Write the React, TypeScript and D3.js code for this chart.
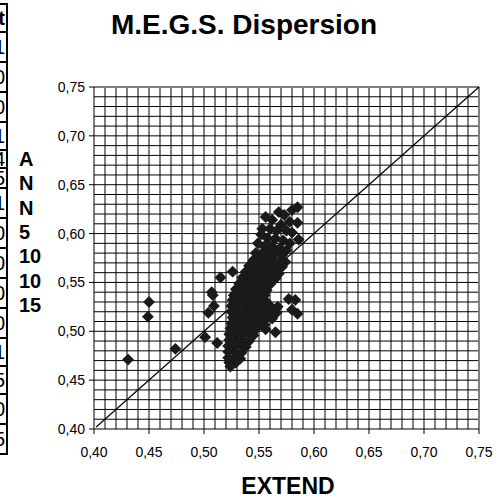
import React from 'react';
import * as d3 from 'd3';

// values
const xTicks = [0.4, 0.45, 0.5, 0.55, 0.6, 0.65, 0.7, 0.75];
const yTicks = [0.4, 0.45, 0.5, 0.55, 0.6, 0.65, 0.7, 0.75];
const yTitleLines = ['A', 'N', 'N', '5', '10', '10', '15'];
const tableCells = ['t', '1', '0', '0', '1', '4', '5', '1', '0', '0', '0', '0', '1', '5', '0', '5'];
const tableRowHeights = [28, 30, 30, 30, 28, 18, 20, 30, 30, 30, 30, 30, 28, 28, 30, 30];

const outlierPoints = [
  [0.431, 0.471], [0.45, 0.53], [0.449, 0.515], [0.474, 0.482], [0.501, 0.494],
  [0.512, 0.488], [0.504, 0.519], [0.509, 0.526], [0.508, 0.537], [0.507, 0.54],
  [0.515, 0.555], [0.526, 0.561], [0.577, 0.533], [0.583, 0.532], [0.58, 0.522],
  [0.585, 0.518], [0.565, 0.499], [0.586, 0.594], [0.585, 0.611], [0.585, 0.627],
];

const upperBand = [
  [0.58, 0.624], [0.568, 0.622], [0.573, 0.619], [0.556, 0.617], [0.562, 0.614],
  [0.578, 0.612], [0.57, 0.609], [0.553, 0.605], [0.56, 0.605], [0.566, 0.603],
  [0.575, 0.603], [0.58, 0.601], [0.552, 0.599], [0.558, 0.595], [0.565, 0.595],
  [0.572, 0.593], [0.578, 0.59], [0.549, 0.59], [0.555, 0.587], [0.562, 0.587],
  [0.569, 0.585], [0.575, 0.583],
  [0.547, 0.58], [0.553, 0.58], [0.559, 0.58], [0.565, 0.58], [0.571, 0.578],
  [0.545, 0.573], [0.551, 0.573], [0.557, 0.573], [0.563, 0.573], [0.569, 0.572], [0.574, 0.571],
  [0.541, 0.567], [0.547, 0.567], [0.553, 0.567], [0.559, 0.567], [0.565, 0.567], [0.571, 0.566],
  [0.538, 0.561], [0.544, 0.561], [0.55, 0.561], [0.556, 0.561], [0.562, 0.561], [0.568, 0.559],
  [0.535, 0.555], [0.541, 0.555], [0.547, 0.555], [0.553, 0.555], [0.559, 0.555], [0.565, 0.554],
  [0.532, 0.549], [0.538, 0.549], [0.544, 0.549], [0.55, 0.549], [0.556, 0.549], [0.56, 0.548],
];

const lowerBand = [
  [0.529, 0.543], [0.535, 0.543], [0.541, 0.543], [0.547, 0.543], [0.553, 0.543], [0.557, 0.542],
  [0.527, 0.537], [0.533, 0.537], [0.539, 0.537], [0.545, 0.537], [0.551, 0.537], [0.555, 0.537],
  [0.526, 0.532], [0.532, 0.532], [0.538, 0.532], [0.544, 0.532], [0.55, 0.532], [0.556, 0.531],
  [0.525, 0.526], [0.531, 0.526], [0.537, 0.526], [0.543, 0.526], [0.549, 0.526], [0.555, 0.526],
  [0.561, 0.525], [0.567, 0.525],
  [0.525, 0.52], [0.531, 0.52], [0.537, 0.52], [0.543, 0.52], [0.549, 0.52], [0.555, 0.52],
  [0.561, 0.519], [0.566, 0.519],
  [0.526, 0.514], [0.532, 0.514], [0.538, 0.514], [0.544, 0.514], [0.55, 0.514], [0.556, 0.513], [0.562, 0.513],
  [0.525, 0.508], [0.531, 0.508], [0.537, 0.508], [0.543, 0.508], [0.549, 0.508], [0.555, 0.507],
  [0.524, 0.503], [0.53, 0.503], [0.536, 0.503], [0.542, 0.503], [0.548, 0.503], [0.556, 0.502],
  [0.523, 0.497], [0.529, 0.497], [0.535, 0.497], [0.541, 0.497], [0.545, 0.496],
  [0.523, 0.491], [0.529, 0.491], [0.535, 0.491], [0.541, 0.49],
  [0.522, 0.485], [0.528, 0.485], [0.534, 0.485], [0.538, 0.484],
  [0.522, 0.479], [0.528, 0.479], [0.534, 0.478],
  [0.522, 0.473], [0.528, 0.473], [0.533, 0.472],
  [0.523, 0.468], [0.529, 0.468],
  [0.524, 0.464],
];

const diagonal = [[0.402, 0.402], [0.75, 0.75]];

const W = 498;
const H = 496;
const left = 94;
const right = 479;
const top = 87;
const bottom = 429;
const font = 'Liberation Sans, Arial, Helvetica, sans-serif';

const App = () => {
  const x = d3.scaleLinear().domain([0.4, 0.75]).range([left, right]);
  const y = d3.scaleLinear().domain([0.4, 0.75]).range([bottom, top]);
  const fmt = (v: number) => d3.format('.2f')(v).replace('.', ',');

  const gridX = x.ticks(35).filter(v => v > 0.4005 && v < 0.7495);
  const gridY = y.ticks(35).filter(v => v > 0.4005 && v < 0.7495);

  const diamond = d3.symbol().type(d3.symbolDiamond2 || d3.symbolSquare).size(90)();
  const line = d3.line().x(d => x(d[0])).y(d => y(d[1]));
  const points = [...outlierPoints, ...upperBand, ...lowerBand];

  // table cell boundaries on the far left
  let acc = 4;
  const rows = tableRowHeights.map((h, i) => {
    const r = { y0: acc, h, label: tableCells[i] };
    acc += h;
    return r;
  });

  return (
    <div style={{ position: 'fixed', left: 0, top: 0 }}>
      <svg width={W} height={H} style={{ display: 'block', background: '#fff' }}>
        {/* cut-off spreadsheet column */}
        <g>
          {rows.map((r, i) => (
            <g key={i}>
              <rect x={-20} y={r.y0} width={27} height={r.h} fill="#fff" stroke="#000" strokeWidth={2} />
              <text x={5} y={r.y0 + r.h / 2 + 7} textAnchor="end" fontFamily={font} fontSize={20}
                fontWeight={i === 0 ? 'bold' : 'normal'} fill="#000">{r.label}</text>
            </g>
          ))}
        </g>

        <text x={244} y={34} textAnchor="middle" fontFamily={font} fontSize={28} fontWeight="bold">
          M.E.G.S. Dispersion
        </text>

        {/* grid */}
        <g stroke="#000" strokeWidth={1}>
          {gridX.map(v => <line key={'gx' + v} x1={x(v)} x2={x(v)} y1={top} y2={bottom} />)}
          {gridY.map(v => <line key={'gy' + v} x1={left} x2={right} y1={y(v)} y2={y(v)} />)}
        </g>
        <line x1={left} x2={right} y1={top} y2={top} stroke="#808080" strokeWidth={2} />
        <line x1={right} x2={right} y1={top} y2={bottom} stroke="#808080" strokeWidth={2} />

        {/* axes */}
        <g stroke="#000" strokeWidth={1}>
          <line x1={left} x2={left} y1={top} y2={bottom} />
          <line x1={left} x2={right} y1={bottom} y2={bottom} />
          {xTicks.map(v => <line key={'tx' + v} x1={x(v)} x2={x(v)} y1={bottom} y2={bottom + 5} />)}
          {yTicks.map(v => <line key={'ty' + v} x1={left - 5} x2={left} y1={y(v)} y2={y(v)} />)}
        </g>
        {xTicks.map(v => (
          <text key={'lx' + v} x={x(v)} y={bottom + 28} textAnchor="middle" fontFamily={font} fontSize={14}>
            {fmt(v)}
          </text>
        ))}
        {yTicks.map(v => (
          <text key={'ly' + v} x={left - 9} y={y(v) + 5} textAnchor="end" fontFamily={font} fontSize={14}>
            {fmt(v)}
          </text>
        ))}

        {/* reference line y = x */}
        <path d={line(diagonal as [number, number][]) || ''} fill="none" stroke="#000" strokeWidth={1.2} />

        {/* points */}
        <g fill="#1a1a1a">
          {points.map((p, i) => (
            <path key={i} d={diamond || ''} transform={`translate(${x(p[0])},${y(p[1])})`} />
          ))}
        </g>

        {/* axis titles */}
        {yTitleLines.map((t, i) => (
          <text key={'yt' + i} x={19} y={166 + i * 24.3} fontFamily={font} fontSize={20} fontWeight="bold">{t}</text>
        ))}
        <text x={288} y={494} textAnchor="middle" fontFamily={font} fontSize={23} fontWeight="bold">EXTEND</text>
      </svg>
    </div>
  );
};

export default App;
